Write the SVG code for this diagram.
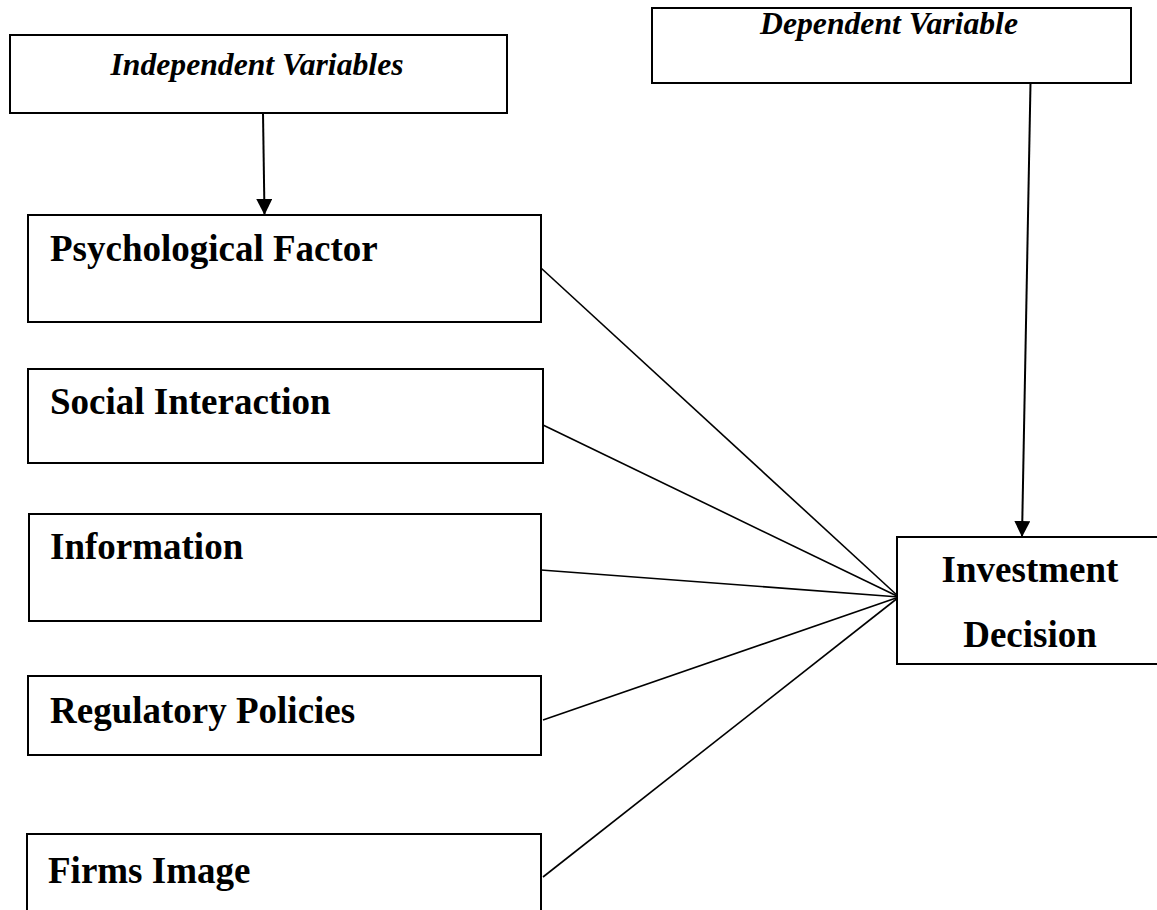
<svg xmlns="http://www.w3.org/2000/svg" width="1157" height="910" viewBox="0 0 1157 910">
  <style>
    .box { fill: #ffffff; stroke: #000000; stroke-width: 2; }
    .hdr { font-family: "Liberation Serif", "Times New Roman", serif; font-weight: bold; font-style: italic; font-size: 31.7px; fill: #000000; text-anchor: middle; }
    .lbl { font-family: "Liberation Serif", "Times New Roman", serif; font-weight: bold; font-size: 37px; fill: #000000; }
    .ctr { text-anchor: middle; }
    .conn { stroke: #000000; stroke-width: 1.6; fill: none; }
    .arr { stroke: #000000; stroke-width: 2; fill: none; }
  </style>
  <defs>
    <marker id="ah" markerUnits="userSpaceOnUse" markerWidth="16" markerHeight="16" refX="16" refY="8" orient="auto">
      <path d="M0,0 L16,8 L0,16 z" fill="#000000"/>
    </marker>
  </defs>
  <rect width="1157" height="910" fill="#ffffff"/>

  <g id="connectors">
    <line class="arr" x1="263" y1="113" x2="264.5" y2="215" marker-end="url(#ah)"/>
    <line class="arr" x1="1030.5" y1="83" x2="1022" y2="537" marker-end="url(#ah)"/>
    <line class="conn" x1="541" y1="268" x2="899" y2="597"/>
    <line class="conn" x1="543" y1="425" x2="899" y2="597"/>
    <line class="conn" x1="541" y1="570" x2="899" y2="597"/>
    <line class="conn" x1="543" y1="720" x2="899" y2="597"/>
    <line class="conn" x1="543" y1="877" x2="899" y2="597"/>
  </g>

  <g id="independent-variables">
    <rect class="box" x="10" y="35" width="497" height="78"/>
    <text class="hdr" x="257" y="75">Independent Variables</text>
  </g>

  <g id="dependent-variable">
    <rect class="box" x="652" y="8" width="479" height="75"/>
    <text class="hdr" x="889" y="34">Dependent Variable</text>
  </g>

  <g id="psychological-factor">
    <rect class="box" x="28" y="215" width="513" height="107"/>
    <text class="lbl" x="50" y="261">Psychological Factor</text>
  </g>

  <g id="social-interaction">
    <rect class="box" x="28" y="369" width="515" height="94"/>
    <text class="lbl" x="50" y="414">Social Interaction</text>
  </g>

  <g id="information">
    <rect class="box" x="29" y="514" width="512" height="107"/>
    <text class="lbl" x="50" y="559">Information</text>
  </g>

  <g id="regulatory-policies">
    <rect class="box" x="28" y="676" width="513" height="79"/>
    <text class="lbl" x="50" y="723">Regulatory Policies</text>
  </g>

  <g id="firms-image">
    <rect class="box" x="27" y="834" width="514" height="100"/>
    <text class="lbl" x="48" y="883">Firms Image</text>
  </g>

  <g id="investment-decision">
    <rect class="box" x="897" y="537" width="280" height="127"/>
    <text class="lbl ctr" x="1030" y="582">Investment</text>
    <text class="lbl ctr" x="1030" y="647">Decision</text>
  </g>
</svg>
